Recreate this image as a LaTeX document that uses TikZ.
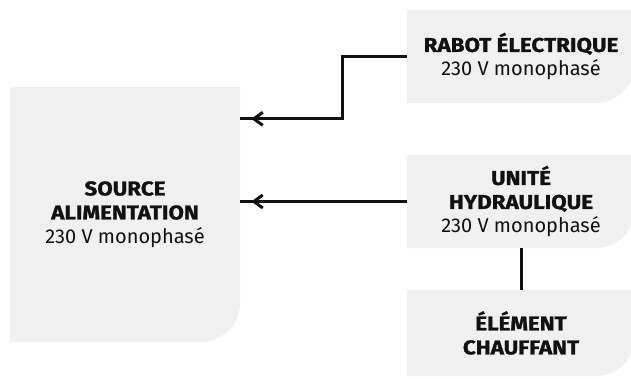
\documentclass[tikz,border=0pt]{standalone}
\usepackage{fontspec}
\setmainfont{Fira Sans}[BoldFeatures={FakeStretch=1.12, FakeBold=1.2}]
\usetikzlibrary{arrows.meta, positioning, backgrounds, decorations.markings}
\definecolor{panelGray}{RGB}{240,240,240}
\definecolor{inkBlack}{RGB}{17,17,17}
\tikzset{
    panel/.style={inner sep=0pt, align=center, text=inkBlack, font=\fontsize{20}{24}\selectfont},
    feed/.style={line width=3pt, inkBlack, postaction={decorate},
        decoration={markings, mark=at position -11pt with {\arrow{Straight Barb[length=9pt, width=13pt]}}}},
    link/.style={line width=3pt, inkBlack},
}

\begin{document}
\begin{tikzpicture}[x=1pt, y=1pt]
    \useasboundingbox (0,0) rectangle (631,379);

    % SUPPLY
    \node[panel, minimum width=230pt, minimum height=255pt] (source) at (125,164.5)
        {\textbf{SOURCE}\\\textbf{ALIMENTATION}\\230 V monophasé};

    % LOADS
    \node[panel, minimum width=228pt, minimum height=93pt] (rabot) at (521,322.5)
        {\textbf{RABOT ÉLECTRIQUE}\\230 V monophasé};
    \node[panel, minimum width=228pt, minimum height=93pt] (unite) at (521,177.5)
        {\textbf{UNITÉ}\\\textbf{HYDRAULIQUE}\\230 V monophasé};
    \node[panel, minimum width=228pt, minimum height=86pt] (element) at (521,46)
        {\textbf{ÉLÉMENT}\\\textbf{CHAUFFANT}};

    \begin{scope}[on background layer]
        \clip (0,0) rectangle (631,379);
        \foreach \n in {source, rabot, unite, element}
            \fill[panelGray] (\n.north west) -- (\n.north east) -- ([yshift=40pt]\n.south east)
                arc[start angle=0, end angle=-90, radius=40pt] -- (\n.south west) -- cycle;
    \end{scope}

    % WIRING
    \coordinate (rabotIn) at ([yshift=-32pt]source.north east);
    \draw[feed] (rabot.west) -- ++(-64pt,0) |- (rabotIn);
    \draw[feed] (unite.west) -- (unite.west -| source.east);
    \draw[link] (unite.south) -- (element.north);

\end{tikzpicture}
\end{document}
